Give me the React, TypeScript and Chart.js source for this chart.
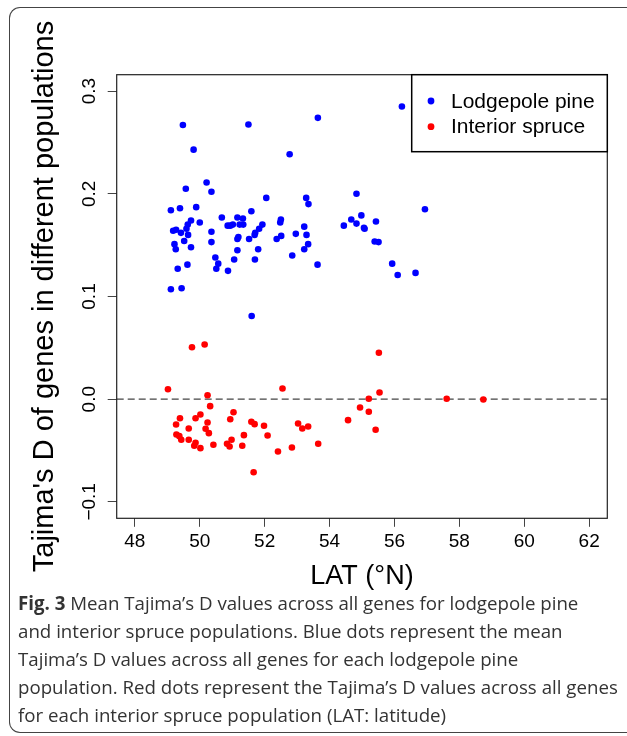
import React, { useEffect, useRef } from "react";
import { Chart, registerables } from "chart.js";

Chart.register(...registerables);

// Lodgepole pine: latitude (°N) and mean Tajima's D
const pineLat = [
  49.48, 49.81, 51.5, 53.64, 52.77, 56.23, 49.57, 50.21, 50.36, 52.05, 53.28, 53.35, 54.83, 56.94,
  49.11, 49.39, 49.89, 49.73, 49.63, 49.59, 50.0, 49.18, 49.27, 49.42, 49.64, 49.52, 49.22, 49.26,
  49.73, 49.32, 49.62, 49.11, 49.44, 50.36, 50.36, 50.68, 50.48, 50.57, 50.51, 50.87, 51.06, 50.86,
  50.94, 51.02, 51.16, 51.33, 51.23, 51.34, 51.16, 51.19, 51.16, 51.59, 51.52, 51.71, 51.69, 51.83,
  51.93, 51.8, 51.7, 52.5, 52.48, 52.51, 52.37, 52.96, 52.85, 53.22, 53.29, 53.34, 53.22, 53.63,
  54.44, 54.67, 54.83, 54.98, 55.06, 55.08, 55.43, 55.39, 55.51, 55.93, 56.1, 56.65, 51.6,
];
const pineD = [
  0.267, 0.243, 0.2675, 0.274, 0.2386, 0.285, 0.205, 0.211, 0.202, 0.196, 0.196, 0.19, 0.2, 0.185,
  0.184, 0.186, 0.187, 0.174, 0.17, 0.166, 0.172, 0.164, 0.165, 0.162, 0.16, 0.154, 0.151, 0.146,
  0.148, 0.127, 0.131, 0.107, 0.108, 0.163, 0.153, 0.177, 0.138, 0.132, 0.127, 0.125, 0.136, 0.169,
  0.169, 0.17, 0.177, 0.176, 0.17, 0.17, 0.156, 0.158, 0.145, 0.183, 0.156, 0.162, 0.16, 0.166,
  0.17, 0.146, 0.136, 0.175, 0.172, 0.159, 0.156, 0.161, 0.14, 0.168, 0.16, 0.151, 0.146, 0.131,
  0.169, 0.175, 0.171, 0.179, 0.167, 0.166, 0.173, 0.1536, 0.153, 0.132, 0.121, 0.123, 0.081,
];

// Interior spruce: latitude (°N) and mean Tajima's D
const spruceLat = [
  49.76, 50.15, 49.02, 50.24, 52.55, 50.32, 49.39, 49.27, 50.02, 49.87, 49.66, 50.24, 50.18, 50.28,
  49.28, 49.37, 49.43, 49.66, 49.87, 49.83, 50.02, 50.42, 51.04, 50.94, 50.84, 50.92, 50.98, 51.36,
  51.31, 51.59, 51.69, 51.98, 52.09, 51.66, 52.41, 52.84, 53.03, 53.16, 53.34, 53.65, 54.57, 54.94,
  55.21, 55.21, 55.52, 55.54, 55.42, 57.61, 58.74,
];
const spruceD = [
  0.0506, 0.0533, 0.0097, 0.0039, 0.0104, -0.0068, -0.0185, -0.0246, -0.0149, -0.0185, -0.0285,
  -0.0227, -0.0288, -0.0331, -0.0344, -0.036, -0.0395, -0.0395, -0.0425, -0.0454, -0.0477, -0.0444,
  -0.0127, -0.0195, -0.0434, -0.0461, -0.0395, -0.035, -0.0454, -0.022, -0.0243, -0.0259, -0.0353,
  -0.0711, -0.0509, -0.047, -0.0237, -0.0285, -0.0266, -0.0434, -0.0204, -0.0081, 0.0004, -0.0123,
  0.0452, 0.0065, -0.0298, 0.0004, -0.0003,
];

const seriesLabels = ["Lodgepole pine", "Interior spruce"];
const seriesColors = ["#0000ff", "#ff0000"];
const xTitle = "LAT (°N)";
const yTitle = "Tajima's D of genes in different populations";
const xRange = [47.44, 62.56];
const yRange = [-0.116, 0.316];
const referenceLine = 0;

const captionLines = [
  ["Fig. 3", " Mean Tajima’s D values across all genes for lodgepole pine"],
  ["", "and interior spruce populations. Blue dots represent the mean"],
  ["", "Tajima’s D values across all genes for each lodgepole pine"],
  ["", "population. Red dots represent the Tajima’s D values across all genes"],
  ["", "for each interior spruce population (LAT: latitude)"],
];

const FONT = "'Liberation Sans', Arial, Helvetica, sans-serif";

const decorPlugin = {
  id: "decor",
  beforeDatasetsDraw(chart: any) {
    const { ctx, chartArea } = chart;
    const y = chart.scales.y.getPixelForValue(referenceLine);
    ctx.save();
    ctx.strokeStyle = "#444";
    ctx.lineWidth = 1.3;
    ctx.setLineDash([7, 4]);
    ctx.beginPath();
    ctx.moveTo(chartArea.left, y);
    ctx.lineTo(chartArea.right, y);
    ctx.stroke();
    ctx.restore();
  },
  afterDraw(chart: any) {
    const { ctx, chartArea } = chart;
    ctx.save();
    // plot box
    ctx.strokeStyle = "#222";
    ctx.lineWidth = 1.2;
    ctx.strokeRect(chartArea.left, chartArea.top, chartArea.right - chartArea.left, chartArea.bottom - chartArea.top);
    // legend
    const bx = 411.7;
    const by = chartArea.top;
    const bw = chartArea.right - bx;
    const bh = 77;
    ctx.fillStyle = "#fff";
    ctx.fillRect(bx, by, bw, bh);
    ctx.strokeStyle = "#000";
    ctx.lineWidth = 1.5;
    ctx.strokeRect(bx, by, bw, bh);
    chart.data.datasets.forEach((ds: any, i: number) => {
      const cy = by + 26.3 + i * 25.7;
      ctx.fillStyle = ds.backgroundColor;
      ctx.beginPath();
      ctx.arc(bx + 19.3, cy, 3.4, 0, Math.PI * 2);
      ctx.fill();
      ctx.fillStyle = "#000";
      ctx.font = `21px ${FONT}`;
      ctx.textBaseline = "middle";
      ctx.textAlign = "left";
      ctx.fillText(ds.label, bx + 39.3, cy + 1);
    });
    ctx.restore();
  },
};

function ChartView() {
  const ref = useRef<HTMLCanvasElement | null>(null);
  useEffect(() => {
    if (!ref.current) return;
    const chart = new Chart(ref.current, {
      type: "scatter",
      data: {
        datasets: [
          {
            label: seriesLabels[0],
            data: pineLat.map((x, i) => ({ x, y: pineD[i] })),
            backgroundColor: seriesColors[0],
            borderWidth: 0,
            pointRadius: 3.3,
            pointHoverRadius: 3.3,
          },
          {
            label: seriesLabels[1],
            data: spruceLat.map((x, i) => ({ x, y: spruceD[i] })),
            backgroundColor: seriesColors[1],
            borderWidth: 0,
            pointRadius: 3.3,
            pointHoverRadius: 3.3,
          },
        ],
      },
      options: {
        animation: false,
        responsive: false,
        devicePixelRatio: 1,
        layout: { padding: { left: 0, top: 74.7, right: 19.7, bottom: 1.7 } },
        plugins: { legend: { display: false }, tooltip: { enabled: false } },
        events: [],
        scales: {
          x: {
            type: "linear",
            min: xRange[0],
            max: xRange[1],
            ticks: {
              stepSize: 2,
              includeBounds: false,
              autoSkip: false,
              maxRotation: 0,
              padding: 3.7,
              color: "#000",
              font: { family: FONT, size: 19 },
              callback: (v: any) => String(v),
            },
            grid: { display: true, drawOnChartArea: false, drawTicks: true, tickLength: 8.5, tickColor: "#444", tickWidth: 1 },
            border: { display: false },
            title: {
              display: true,
              text: xTitle,
              color: "#000",
              font: { family: FONT, size: 27 },
              padding: { top: 0, bottom: 5.1 },
            },
            afterFit: (s: any) => {
              s.height = 80;
            },
          },
          y: {
            type: "linear",
            min: yRange[0],
            max: yRange[1],
            ticks: {
              stepSize: 0.1,
              includeBounds: false,
              minRotation: 90,
              maxRotation: 90,
              crossAlign: "center",
              padding: -0.5,
              color: "#000",
              font: { family: FONT, size: 19 },
              callback: (v: any) => {
                const n = Math.round(v * 10) / 10;
                const s = Math.abs(n).toFixed(1);
                return n < 0 ? "\u2212" + s : s;
              },
            },
            grid: { display: true, drawOnChartArea: false, drawTicks: true, tickLength: 9, tickColor: "#444", tickWidth: 1 },
            border: { display: false },
            title: {
              display: true,
              text: yTitle,
              color: "#000",
              font: { family: FONT, size: 29 },
              padding: { top: 27.5, bottom: 0 },
            },
            afterFit: (s: any) => {
              s.width = 116.7;
            },
          },
        },
      } as any,
      plugins: [decorPlugin],
    });
    return () => chart.destroy();
  }, []);
  return <canvas ref={ref} width={627} height={600} style={{ position: "absolute", left: 0, top: 0, display: "block" }} />;
}

export default function App() {
  return (
    <div style={{ position: "absolute", left: 0, top: 0, width: 627, height: 736, overflow: "hidden", background: "#fff" }}>
      <div
        style={{
          position: "absolute",
          left: 9,
          top: 7,
          width: 700,
          height: 726,
          borderTop: "1.5px solid #444",
          borderLeft: "1.5px solid #444",
          borderBottom: "1.5px solid #444",
          borderRight: "none",
          borderRadius: "11px 0 0 11px",
          boxSizing: "border-box",
        }}
      />
      <ChartView />
      <div
        style={{
          position: "absolute",
          left: 18,
          top: 589,
          fontFamily: "'Open Sans', sans-serif",
          fontSize: 18.7,
          lineHeight: "28px",
          color: "#333",
          whiteSpace: "nowrap",
        }}
      >
        {captionLines.map((l, i) => (
          <div key={i}>
            {l[0] ? <b>{l[0]}</b> : null}
            {l[1]}
          </div>
        ))}
      </div>
    </div>
  );
}
